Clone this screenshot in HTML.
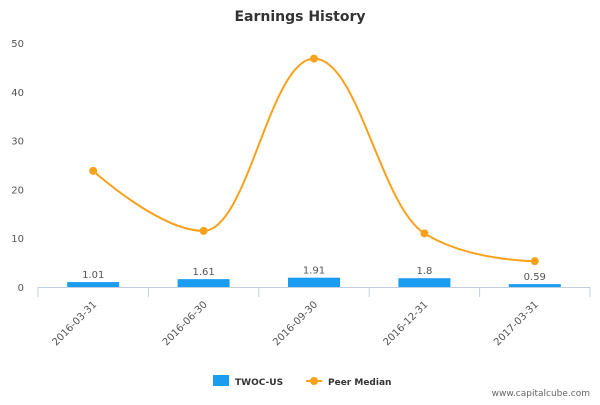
<!DOCTYPE html>
<html><head><meta charset="utf-8"><style>
body{margin:0;background:#fff;font-family:"Liberation Sans","DejaVu Sans",sans-serif}
svg text{font-family:"DejaVu Sans","Liberation Sans",sans-serif}
</style></head><body>
<svg id="c" width="600" height="400" xmlns="http://www.w3.org/2000/svg">
<text x="300" y="21" text-anchor="middle" font-size="14" font-weight="bold" fill="#333">Earnings History</text>
<g id="yaxis"></g>
<g id="xaxis"></g>
<g id="bars"></g>
<g id="line"></g>
<g>
<g><rect x="213" y="375" width="16" height="11" fill="#1a9cf0"/><text x="235" y="385" font-size="9" font-weight="bold" fill="#333">TWOC-US</text></g>
<g><line x1="306" y1="381" x2="322" y2="381" stroke="#f9a11b" stroke-width="2"/><circle cx="314" cy="381" r="4" fill="#f9a11b"/><text x="328" y="385" font-size="9" font-weight="bold" fill="#333">Peer Median</text></g>
</g>
<text x="590" y="396" text-anchor="end" font-size="9" fill="#666">www.capitalcube.com</text>
</svg>
<script>
const categories=["2016-03-31","2016-06-30","2016-09-30","2016-12-31","2017-03-31"];
const barValues=[1.01,1.61,1.91,1.8,0.59];
const barLabels=["1.01","1.61","1.91","1.8","0.59"];
const peerValues=[23.8,11.5,46.8,11,5.3];
const yTicks=[0,10,20,30,40,50];
const NS="http://www.w3.org/2000/svg";
const L=38,R=590,Y0=287,Y50=43;
const y=v=>Y0-(v/50)*(Y0-Y50);
const bw=(R-L)/categories.length;
const xc=i=>L+bw*(i+0.5);
function mk(t,a,p,txt){const e=document.createElementNS(NS,t);for(const k in a)e.setAttribute(k,a[k]);if(txt!=null)e.textContent=txt;p.appendChild(e);return e;}
const ya=document.getElementById('yaxis'),xa=document.getElementById('xaxis'),bg=document.getElementById('bars'),lg=document.getElementById('line');
yTicks.forEach(t=>{const e=mk('text',{x:24,y:y(t)+4,'text-anchor':'end','font-size':10,fill:'#555'},ya,t);

});
mk('line',{x1:L,y1:Y0+0.5,x2:R,y2:Y0+0.5,stroke:'#c0d0e0'},xa);
for(let i=0;i<=categories.length;i++)mk('line',{x1:L+bw*i,y1:Y0,x2:L+bw*i,y2:Y0+10,stroke:'#c0d0e0'},xa);
categories.forEach((c,i)=>{const e=mk('text',{x:xc(i)+4,y:Y0+18,'text-anchor':'end','font-size':10,fill:'#555',transform:`rotate(-45 ${xc(i)+4} ${Y0+18})`},xa,c);

});
barValues.forEach((v,i)=>{const r=mk('rect',{x:xc(i)-26,y:y(v),width:52,height:Y0-y(v),fill:'#1a9cf0'},bg);


const t=mk('text',{x:xc(i),y:y(v)-4,'text-anchor':'middle','font-size':10,fill:'#555'},bg,barLabels[i]);

});
const pts=peerValues.map((v,i)=>[xc(i),y(v)]);
const sm=1.5,dn=2.5;let d=`M${pts[0][0]},${pts[0][1]}`;
const ctrl=i=>{const [px,py]=pts[i-1],[x0,y0]=pts[i],[nx,ny]=pts[i+1];
let lx=(sm*x0+px)/dn,ly=(sm*y0+py)/dn,rx=(sm*x0+nx)/dn,ry=(sm*y0+ny)/dn;
const cor=((ry-ly)*(rx-x0))/(rx-lx)+y0-ry;ly+=cor;ry+=cor;
if(ly>py&&ly>y0){ly=Math.max(py,y0);ry=2*y0-ly;}else if(ly<py&&ly<y0){ly=Math.min(py,y0);ry=2*y0-ly;}
if(ry>ny&&ry>y0){ry=Math.max(ny,y0);ly=2*y0-ry;}else if(ry<ny&&ry<y0){ry=Math.min(ny,y0);ly=2*y0-ry;}
return {lx,ly,rx,ry};};
const cs=pts.map((p,i)=>(i>0&&i<pts.length-1)?ctrl(i):null);
for(let i=1;i<pts.length;i++){const a=cs[i-1]?[cs[i-1].rx,cs[i-1].ry]:pts[i-1];const b=cs[i]?[cs[i].lx,cs[i].ly]:pts[i];
d+=` C${a[0]},${a[1]} ${b[0]},${b[1]} ${pts[i][0]},${pts[i][1]}`;}
const path=mk('path',{d,fill:'none',stroke:'#f9a11b','stroke-width':2},lg);


pts.forEach((p,i)=>{const c=mk('circle',{cx:p[0],cy:p[1],r:4,fill:'#f9a11b'},lg);

});
</script>
</body></html>
